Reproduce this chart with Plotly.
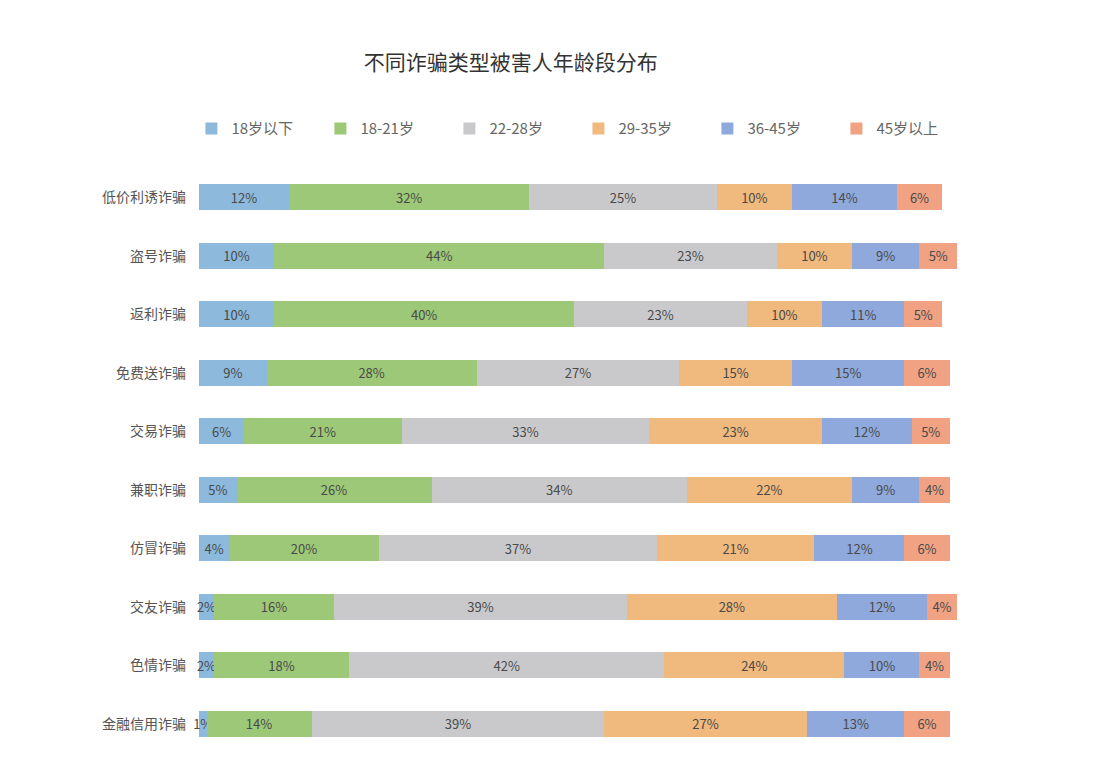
import plotly.graph_objects as go

# categories, top to bottom
categories = ['低价利诱诈骗', '盗号诈骗', '返利诈骗', '免费送诈骗', '交易诈骗',
              '兼职诈骗', '仿冒诈骗', '交友诈骗', '色情诈骗', '金融信用诈骗']

# age groups
groups = ['18岁以下', '18-21岁', '22-28岁', '29-35岁', '36-45岁', '45岁以上']

under18 = [12, 10, 10, 9, 6, 5, 4, 2, 2, 1]
age18_21 = [32, 44, 40, 28, 21, 26, 20, 16, 18, 14]
age22_28 = [25, 23, 23, 27, 33, 34, 37, 39, 42, 39]
age29_35 = [10, 10, 10, 15, 23, 22, 21, 28, 24, 27]
age36_45 = [14, 9, 11, 15, 12, 9, 12, 12, 10, 13]
over45 = [6, 5, 5, 6, 5, 4, 6, 4, 4, 6]

colors = ['#8cb9dc', '#9cc877', '#c9c9cb', '#f0b97d', '#8fa9dc', '#f0a283']

FONT = 'Noto Sans CJK SC'

fig = go.Figure()

series = [under18, age18_21, age22_28, age29_35, age36_45, over45]
for name, vals, col in zip(groups, series, colors):
    fig.add_trace(go.Bar(
        y=categories, x=vals, name=name, orientation='h',
        marker=dict(color=col, line=dict(width=0)),
        text=[f'{v}%' for v in vals],
        textposition='inside', insidetextanchor='middle', textangle=0,
        textfont=dict(size=13, color='#4a4a4a', family=FONT),
        cliponaxis=False,
        width=0.45,
    ))

fig.update_layout(
    barmode='stack',
    width=1100, height=764,
    paper_bgcolor='white', plot_bgcolor='white',
    margin=dict(l=191, r=151, t=160, b=19),
    font=dict(family=FONT, color='#555555'),
    title=dict(text='不同诈骗类型被害人年龄段分布', x=0.457, xanchor='center',
               y=0.929, yanchor='middle',
               font=dict(size=21, color='#333333', family=FONT)),
    legend=dict(orientation='h', x=-0.01, xanchor='left', y=1.067, yanchor='middle',
                entrywidth=84, entrywidthmode='pixels',
                font=dict(size=15, color='#666666', family=FONT),
                traceorder='normal'),
    uniformtext=dict(minsize=13, mode='show'),
    showlegend=True,
)

fig.update_xaxes(range=[0, 101], visible=False, automargin=False)
fig.update_yaxes(autorange='reversed', showgrid=False, ticks='', showline=False,
                 automargin=False,
                 tickfont=dict(size=14, color='#555555', family=FONT),
                 ticklabelstandoff=12)

fig.write_html('out.html')
